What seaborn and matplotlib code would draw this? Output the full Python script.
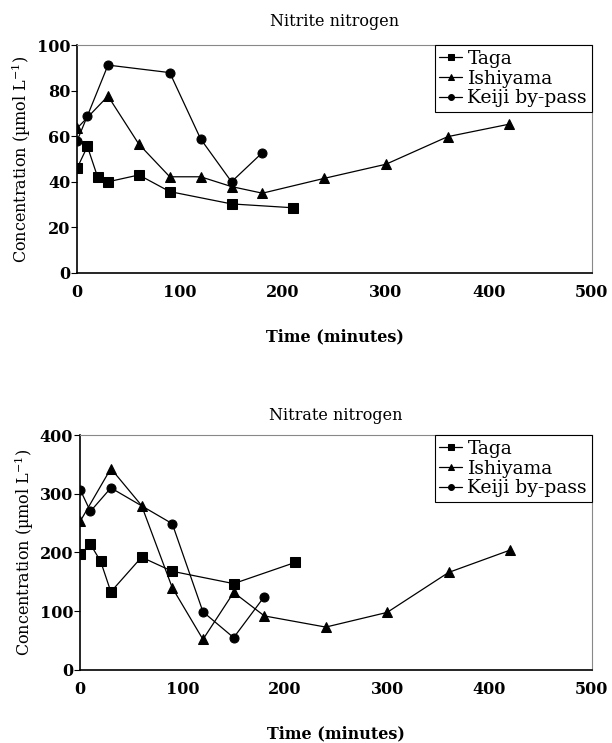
import pandas as pd
import seaborn as sns
import matplotlib.pyplot as plt

# Nitrite nitrogen (umol/L)
taga_t = [0, 10, 20, 30, 60, 90, 150, 210]
taga_no2 = [46, 55.5, 42, 40, 43, 35.7, 30.3, 28.6]
ishi_t = [0, 30, 60, 90, 120, 150, 180, 240, 300, 360, 420]
ishi_no2 = [63.5, 77.6, 56.5, 42.2, 42.2, 37.9, 35, 41.5, 47.7, 59.8, 65.3]
keiji_t = [0, 10, 30, 90, 120, 150, 180]
keiji_no2 = [58, 68.9, 91.2, 87.9, 58.8, 40, 52.8]

# Nitrate nitrogen (umol/L)
taga_no3 = [197, 214, 185, 133, 192, 168, 147, 183]
ishi_no3 = [253, 343, 280, 140, 52, 132, 92, 73, 98, 166, 204]
keiji_no3 = [307, 270, 310, 249, 99, 55, 125]

site_names = ["Taga", "Ishiyama", "Keiji by-pass"]
site_markers = ["s", "^", "o"]
site_msize = [6.5, 7.5, 6.5]

sns.set_style("white")
plt.rcParams['font.family'] = ['DejaVu Serif']
plt.rcParams['mathtext.fontset'] = 'dejavuserif'
plt.rcParams['text.color'] = 'black'
plt.rcParams['axes.labelcolor'] = 'black'
plt.rcParams['xtick.color'] = 'black'
plt.rcParams['ytick.color'] = 'black'

fig = plt.figure(figsize=(6.12, 7.43), dpi=100)
ax1 = fig.add_axes([0.126, 0.6326, 0.841, 0.3068])
ax2 = fig.add_axes([0.131, 0.0983, 0.836, 0.3162])

panels = [
    (ax1, "Nitrite nitrogen", [taga_no2, ishi_no2, keiji_no2], (0, 100), range(0, 101, 20), 14),
    (ax2, "Nitrate nitrogen", [taga_no3, ishi_no3, keiji_no3], (0, 400), range(0, 401, 100), 11),
]
times = [taga_t, ishi_t, keiji_t]

for ax, title, series, ylim, yticks, tpad in panels:
    for name, t, v, m, ms in zip(site_names, times, series, site_markers, site_msize):
        df = pd.DataFrame({"t": t, "v": v})
        sns.lineplot(data=df, x="t", y="v", ax=ax, color="black", lw=0.9,
                     marker=m, markersize=ms, markeredgecolor="black",
                     sort=False, estimator=None, label=name)
    ax.set_xlim(0, 500)
    ax.set_ylim(*ylim)
    ax.set_xticks(range(0, 501, 100))
    ax.set_yticks(list(yticks))
    ax.set_title(title, fontsize=11.5, pad=tpad, color="black")
    ax.set_xlabel("Time (minutes)", fontsize=11.5, fontweight="bold", labelpad=20)
    ax.set_ylabel("Concentration (µmol L$^{-1}$)", fontsize=11.5, labelpad=3)
    for lab in ax.get_xticklabels() + ax.get_yticklabels():
        lab.set_fontweight("bold")
    ax.tick_params(axis="x", direction="in", length=5, width=0.8, labelsize=11.5, pad=8)
    ax.tick_params(axis="y", direction="out", length=4, width=0.8, labelsize=11.5, pad=1, left=True)
    for s in ["left", "bottom"]:
        ax.spines[s].set_color("black")
        ax.spines[s].set_linewidth(1.2)
    for s in ["top", "right"]:
        ax.spines[s].set_color("#888888")
        ax.spines[s].set_linewidth(0.8)
    leg = ax.legend(loc="upper right", bbox_to_anchor=(1.0, 1.0), borderaxespad=0,
                    fontsize=13.5, handlelength=1.2, handletextpad=0.3,
                    labelspacing=0.1, borderpad=0.25, markerscale=0.65,
                    fancybox=False, framealpha=1)
    leg.get_frame().set_edgecolor("black")
    leg.get_frame().set_linewidth(0.8)

fig.savefig("out.png", dpi=100)
